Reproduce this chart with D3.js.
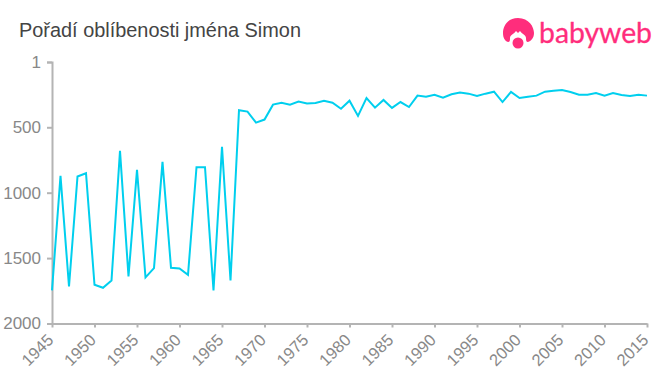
<!DOCTYPE html>
<html>
<head>
<meta charset="utf-8">
<script src="https://cdn.jsdelivr.net/npm/d3@7"></script>
<style>
  html, body { margin: 0; padding: 0; background: #fff; }
  svg { display: block; font-family: "Liberation Sans", Arial, sans-serif; }
  .axis path, .axis line { stroke: #b4b4b4; stroke-width: 2; fill: none; }
  .axis text { fill: #888; font-size: 17px; }
  .axis.x text { font-size: 16.5px; }
</style>
</head>
<body>
<svg id="chart" width="660" height="375"></svg>
<script>
const title = 'Pořadí oblíbenosti jména Simon'
const years = [
  1945, 1946, 1947, 1948, 1949, 1950, 1951, 1952, 1953, 1954, 1955, 1956,
  1957, 1958, 1959, 1960, 1961, 1962, 1963, 1964, 1965, 1966, 1967, 1968,
  1969, 1970, 1971, 1972, 1973, 1974, 1975, 1976, 1977, 1978, 1979, 1980,
  1981, 1982, 1983, 1984, 1985, 1986, 1987, 1988, 1989, 1990, 1991, 1992,
  1993, 1994, 1995, 1996, 1997, 1998, 1999, 2000, 2001, 2002, 2003, 2004,
  2005, 2006, 2007, 2008, 2009, 2010, 2011, 2012, 2013, 2014, 2015
]
const ranks = [
  1747, 871, 1717, 876, 851, 1704, 1727, 1671, 680, 1641, 826, 1648,
  1577, 765, 1574, 1580, 1628, 805, 805, 1747, 650, 1671, 370, 380,
  464, 441, 327, 312, 327, 304, 319, 314, 297, 312, 358, 297,
  413, 276, 350, 291, 352, 307, 345, 258, 266, 251, 274, 248,
  235, 243, 261, 243, 228, 307, 230, 276, 266, 258, 228, 220,
  215, 230, 251, 251, 238, 258, 238, 253, 261, 251, 258
]
const yTicks = [1, 500, 1000, 1500, 2000]
const xTicks = [
  1945, 1950, 1955, 1960, 1965, 1970, 1975, 1980, 1985, 1990, 1995, 2000,
  2005, 2010, 2015
]

const margin = {left: 52, right: 13, top: 62, bottom: 51.5}
const width = 660
const height = 375

const svg = d3.select('#chart')

const scaleX = d3.scaleLinear().domain([1945, 2015]).range([margin.left, width - margin.right])
const scaleY = d3.scaleLinear().domain([1, 2000]).range([margin.top, height - margin.bottom])

svg.append('text')
  .attr('x', 19)
  .attr('y', 37)
  .attr('fill', '#444')
  .attr('font-size', 19.9)
  .text(title)

const axisY = d3.axisLeft(scaleY)
  .tickValues(yTicks)
  .tickFormat(d3.format('d'))
  .tickSize(5)
  .tickSizeOuter(5)
  .tickPadding(6)
const axisX = d3.axisBottom(scaleX)
  .tickValues(xTicks)
  .tickFormat(d3.format('d'))
  .tickSize(4)
  .tickSizeOuter(0)

svg.append('g')
  .attr('class', 'axis y')
  .attr('transform', `translate(${margin.left}, 0)`)
  .call(axisY)

svg.append('g')
  .attr('class', 'axis x')
  .attr('transform', `translate(0, ${height - margin.bottom})`)
  .call(axisX)
  .selectAll('text')
  .attr('text-anchor', 'end')
  .attr('x', -11)
  .attr('y', 13.8)
  .attr('dy', 0)
  .attr('transform', 'rotate(-45)')

const line = d3.line()
  .x((d, i) => scaleX(years[i]))
  .y(d => scaleY(d))

svg.append('path')
  .datum(ranks)
  .attr('d', line)
  .attr('fill', 'none')
  .attr('stroke', '#00cfee')
  .attr('stroke-width', 2)

// logo, head and dummy then the word
const logo = svg.append('g').attr('fill', '#ff2d7c')
logo.append('path')
  .attr('d', 'M518 18 C507 18 503 27 503 33 C503 38 505 41 508 42 C510 42 510 40 510 38 C510 35 514 34 516 31 L518 33 L520 31 C522 34 526 35 526 38 C526 40 526 42 528 42 C531 41 534 38 534 33 C534 27 529 18 518 18 Z')
logo.append('circle').attr('cx', 518).attr('cy', 43).attr('r', 5.5)
logo.append('text')
  .attr('x', 539)
  .attr('y', 43)
  .attr('font-family', 'Lato, "Noto Sans", sans-serif')
  .attr('font-size', 28)
  .attr('stroke', '#ff2d7c')
  .attr('stroke-width', 0.3)
  .attr('textLength', 113)
  .attr('lengthAdjust', 'spacingAndGlyphs')
  .text('babyweb')
</script>
</body>
</html>
